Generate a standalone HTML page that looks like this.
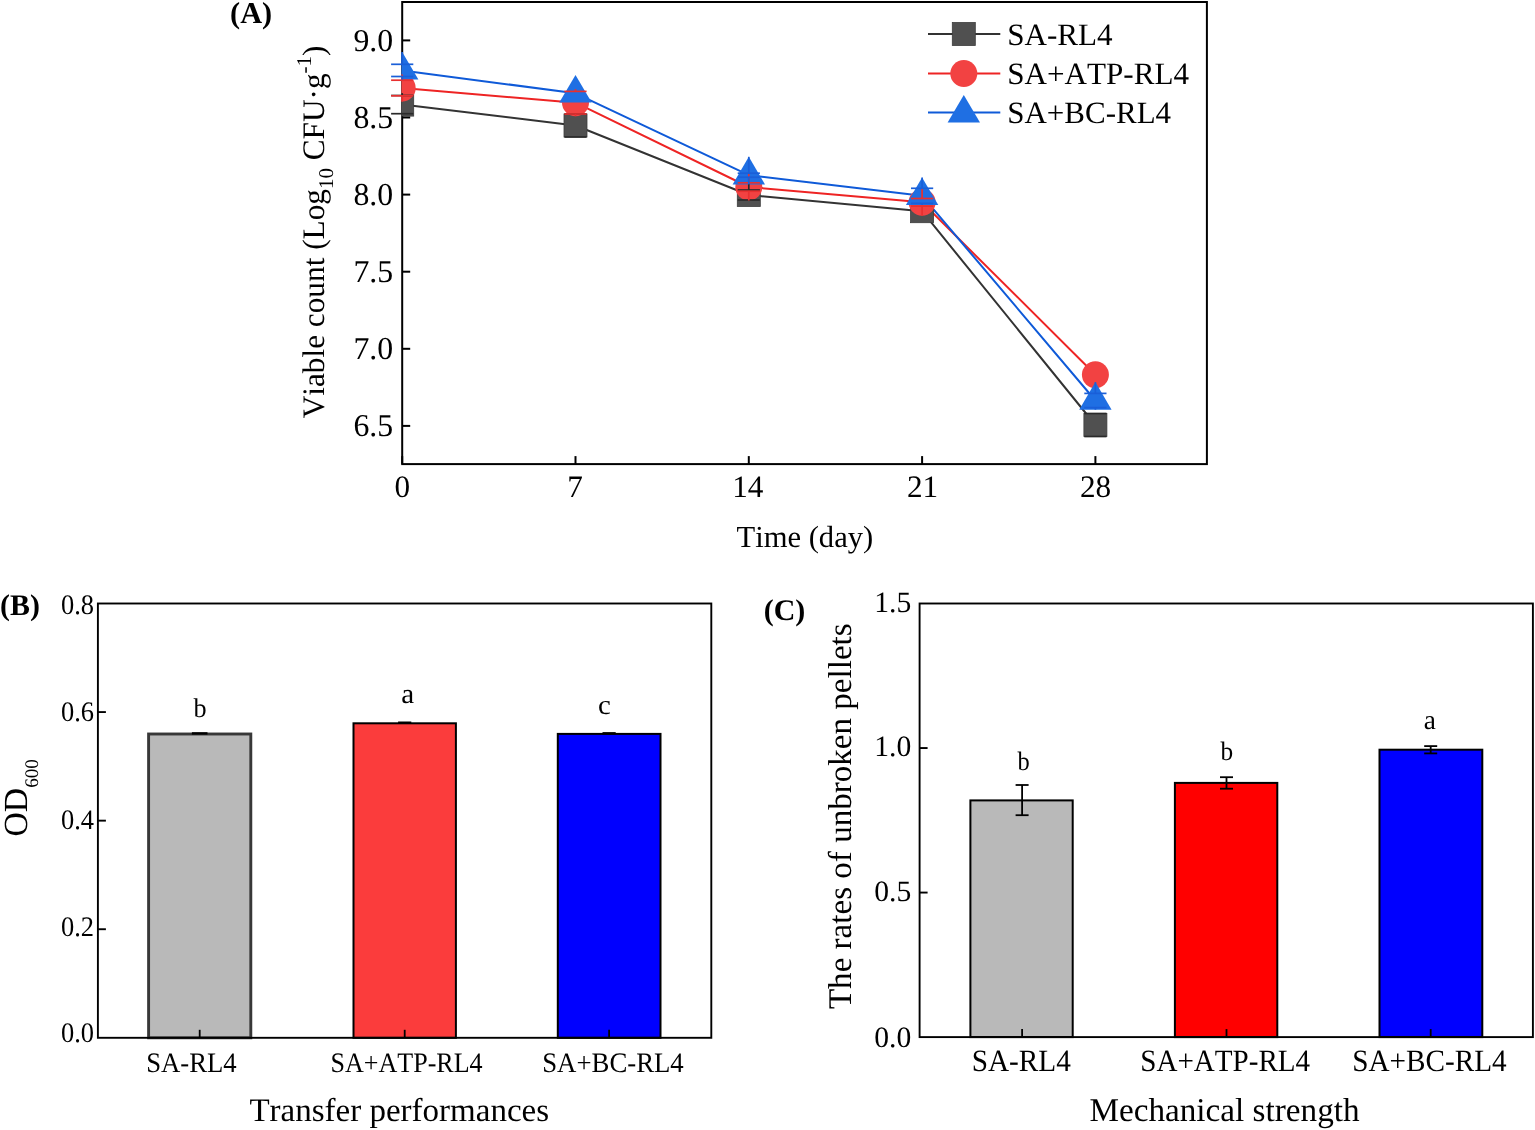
<!DOCTYPE html>
<html><head><meta charset="utf-8"><title>Figure</title>
<style>html,body{margin:0;padding:0;background:#fff;}svg{display:block;}text{font-kerning:none;text-rendering:geometricPrecision;}</style>
</head><body>
<svg width="1535" height="1130" viewBox="0 0 1535 1130" font-family="'Liberation Serif', 'Times New Roman', serif">
<rect x="0" y="0" width="1535" height="1130" fill="#fff"/>
<defs><clipPath id="clipA"><rect x="401.4" y="2.0" width="805.5000000000001" height="462.1"/></clipPath></defs>
<rect x="402.2" y="2.0" width="804.70" height="462.10" fill="none" stroke="#000" stroke-width="2.0"/>
<g clip-path="url(#clipA)">
<polyline points="402.20,104.60 575.50,125.50 748.80,195.00 922.10,211.20 1095.40,425.00" fill="none" stroke="#333333" stroke-width="2.0" stroke-linejoin="round"/>
<polyline points="402.20,88.00 575.50,102.70 748.80,187.00 922.10,202.30 1095.40,374.70" fill="none" stroke="#ee2424" stroke-width="2.0" stroke-linejoin="round"/>
<polyline points="402.20,70.40 575.50,93.30 748.80,175.20 922.10,195.80 1095.40,400.50" fill="none" stroke="#0f5ad8" stroke-width="2.0" stroke-linejoin="round"/>
<rect x="390.70" y="93.10" width="23.0" height="23.0" fill="#505050" stroke="#3c3c3c" stroke-width="0.8"/>
<rect x="564.00" y="114.00" width="23.0" height="23.0" fill="#505050" stroke="#3c3c3c" stroke-width="0.8"/>
<rect x="737.30" y="183.50" width="23.0" height="23.0" fill="#505050" stroke="#3c3c3c" stroke-width="0.8"/>
<rect x="910.60" y="199.70" width="23.0" height="23.0" fill="#505050" stroke="#3c3c3c" stroke-width="0.8"/>
<rect x="1083.90" y="413.50" width="23.0" height="23.0" fill="#505050" stroke="#3c3c3c" stroke-width="0.8"/>
<circle cx="402.20" cy="88.00" r="13.5" fill="#f24242"/>
<circle cx="575.50" cy="102.70" r="13.5" fill="#f24242"/>
<circle cx="748.80" cy="187.00" r="13.5" fill="#f24242"/>
<circle cx="922.10" cy="202.30" r="13.5" fill="#f24242"/>
<circle cx="1095.40" cy="374.70" r="13.5" fill="#f24242"/>
<polygon points="402.20,52.00 418.40,79.60 386.00,79.60" fill="#1f6fe3"/>
<polygon points="575.50,74.90 591.70,102.50 559.30,102.50" fill="#1f6fe3"/>
<polygon points="748.80,156.80 765.00,184.40 732.60,184.40" fill="#1f6fe3"/>
<polygon points="922.10,177.40 938.30,205.00 905.90,205.00" fill="#1f6fe3"/>
<polygon points="1095.40,382.10 1111.60,409.70 1079.20,409.70" fill="#1f6fe3"/>
</g>
<line x1="391.10" y1="95.50" x2="413.30" y2="95.50" stroke="#2a2a2a" stroke-width="1.7"/><line x1="391.10" y1="113.70" x2="413.30" y2="113.70" stroke="#2a2a2a" stroke-width="1.7"/><line x1="402.20" y1="93.10" x2="402.20" y2="95.50" stroke="#2a2a2a" stroke-width="1.7"/>
<line x1="564.40" y1="114.00" x2="586.60" y2="114.00" stroke="#2a2a2a" stroke-width="1.7"/><line x1="564.40" y1="137.00" x2="586.60" y2="137.00" stroke="#2a2a2a" stroke-width="1.7"/>
<line x1="737.70" y1="190.00" x2="759.90" y2="190.00" stroke="#2a2a2a" stroke-width="1.7"/><line x1="737.70" y1="200.00" x2="759.90" y2="200.00" stroke="#2a2a2a" stroke-width="1.7"/><line x1="748.80" y1="183.50" x2="748.80" y2="190.00" stroke="#2a2a2a" stroke-width="1.7"/>

<line x1="1084.30" y1="413.50" x2="1106.50" y2="413.50" stroke="#2a2a2a" stroke-width="1.7"/><line x1="1084.30" y1="436.50" x2="1106.50" y2="436.50" stroke="#2a2a2a" stroke-width="1.7"/>
<line x1="391.10" y1="80.20" x2="413.30" y2="80.20" stroke="#e83030" stroke-width="1.7"/><line x1="391.10" y1="95.80" x2="413.30" y2="95.80" stroke="#e83030" stroke-width="1.7"/><line x1="402.20" y1="74.50" x2="402.20" y2="80.20" stroke="#e83030" stroke-width="1.7"/><line x1="402.20" y1="95.80" x2="402.20" y2="101.50" stroke="#e83030" stroke-width="1.7"/>
<line x1="564.40" y1="91.40" x2="586.60" y2="91.40" stroke="#e83030" stroke-width="1.7"/><line x1="564.40" y1="114.00" x2="586.60" y2="114.00" stroke="#e83030" stroke-width="1.7"/><line x1="575.50" y1="89.20" x2="575.50" y2="91.40" stroke="#e83030" stroke-width="1.7"/><line x1="575.50" y1="114.00" x2="575.50" y2="116.20" stroke="#e83030" stroke-width="1.7"/>
<line x1="737.70" y1="182.80" x2="759.90" y2="182.80" stroke="#e83030" stroke-width="1.7"/><line x1="737.70" y1="191.20" x2="759.90" y2="191.20" stroke="#e83030" stroke-width="1.7"/><line x1="748.80" y1="173.50" x2="748.80" y2="182.80" stroke="#e83030" stroke-width="1.7"/><line x1="748.80" y1="191.20" x2="748.80" y2="200.50" stroke="#e83030" stroke-width="1.7"/>
<line x1="911.00" y1="198.50" x2="933.20" y2="198.50" stroke="#e83030" stroke-width="1.7"/><line x1="911.00" y1="206.10" x2="933.20" y2="206.10" stroke="#e83030" stroke-width="1.7"/><line x1="922.10" y1="188.80" x2="922.10" y2="198.50" stroke="#e83030" stroke-width="1.7"/><line x1="922.10" y1="206.10" x2="922.10" y2="215.80" stroke="#e83030" stroke-width="1.7"/>

<line x1="391.10" y1="64.30" x2="413.30" y2="64.30" stroke="#1a5fd8" stroke-width="1.7"/><line x1="391.10" y1="76.50" x2="413.30" y2="76.50" stroke="#1a5fd8" stroke-width="1.7"/><line x1="402.20" y1="52.00" x2="402.20" y2="64.30" stroke="#1a5fd8" stroke-width="1.7"/><line x1="402.20" y1="76.50" x2="402.20" y2="79.60" stroke="#1a5fd8" stroke-width="1.7"/>

<line x1="737.70" y1="173.20" x2="759.90" y2="173.20" stroke="#1a5fd8" stroke-width="1.7"/><line x1="737.70" y1="177.20" x2="759.90" y2="177.20" stroke="#1a5fd8" stroke-width="1.7"/><line x1="748.80" y1="156.80" x2="748.80" y2="173.20" stroke="#1a5fd8" stroke-width="1.7"/><line x1="748.80" y1="177.20" x2="748.80" y2="184.40" stroke="#1a5fd8" stroke-width="1.7"/>
<line x1="911.00" y1="188.30" x2="933.20" y2="188.30" stroke="#1a5fd8" stroke-width="1.7"/><line x1="911.00" y1="203.30" x2="933.20" y2="203.30" stroke="#1a5fd8" stroke-width="1.7"/><line x1="922.10" y1="177.40" x2="922.10" y2="188.30" stroke="#1a5fd8" stroke-width="1.7"/><line x1="922.10" y1="203.30" x2="922.10" y2="205.00" stroke="#1a5fd8" stroke-width="1.7"/>
<line x1="1084.30" y1="393.40" x2="1106.50" y2="393.40" stroke="#1a5fd8" stroke-width="1.7"/><line x1="1084.30" y1="407.60" x2="1106.50" y2="407.60" stroke="#1a5fd8" stroke-width="1.7"/><line x1="1095.40" y1="382.10" x2="1095.40" y2="393.40" stroke="#1a5fd8" stroke-width="1.7"/><line x1="1095.40" y1="407.60" x2="1095.40" y2="409.70" stroke="#1a5fd8" stroke-width="1.7"/>
<line x1="402.2" y1="40.40" x2="410.2" y2="40.40" stroke="#000" stroke-width="2.0"/>
<text x="353.45" y="50.50" font-size="31.80">9.0</text>
<line x1="402.2" y1="117.50" x2="410.2" y2="117.50" stroke="#000" stroke-width="2.0"/>
<text x="353.45" y="127.60" font-size="31.80">8.5</text>
<line x1="402.2" y1="194.60" x2="410.2" y2="194.60" stroke="#000" stroke-width="2.0"/>
<text x="353.45" y="204.70" font-size="31.80">8.0</text>
<line x1="402.2" y1="271.70" x2="410.2" y2="271.70" stroke="#000" stroke-width="2.0"/>
<text x="353.45" y="281.80" font-size="31.80">7.5</text>
<line x1="402.2" y1="348.80" x2="410.2" y2="348.80" stroke="#000" stroke-width="2.0"/>
<text x="353.45" y="358.90" font-size="31.80">7.0</text>
<line x1="402.2" y1="425.90" x2="410.2" y2="425.90" stroke="#000" stroke-width="2.0"/>
<text x="353.45" y="436.00" font-size="31.80">6.5</text>
<line x1="402.20" y1="464.1" x2="402.20" y2="456.1" stroke="#000" stroke-width="2.0"/>
<text x="394.60" y="497.20" font-size="31.20">0</text>
<line x1="575.50" y1="464.1" x2="575.50" y2="456.1" stroke="#000" stroke-width="2.0"/>
<text x="567.32" y="497.20" font-size="31.20">7</text>
<line x1="748.80" y1="464.1" x2="748.80" y2="456.1" stroke="#000" stroke-width="2.0"/>
<text x="732.27" y="497.20" font-size="31.20">14</text>
<line x1="922.10" y1="464.1" x2="922.10" y2="456.1" stroke="#000" stroke-width="2.0"/>
<text x="906.95" y="497.20" font-size="31.20">21</text>
<line x1="1095.40" y1="464.1" x2="1095.40" y2="456.1" stroke="#000" stroke-width="2.0"/>
<text x="1079.91" y="497.20" font-size="31.20">28</text>
<text x="736.45" y="547.40" font-size="30.60">Time (day)</text>
<text transform="translate(323.7,418.30) rotate(-90)" font-size="31.28" style="font-kerning:none">Viable count (Log<tspan font-size="21" dy="9.3">10</tspan><tspan dy="-9.3"> CFU·g</tspan><tspan font-size="21" dy="-13">-1</tspan><tspan dy="13">)</tspan></text>
<text x="230.07" y="22.60" font-size="30.30" font-weight="bold">(A)</text>
<line x1="928" y1="34.0" x2="1000.3" y2="34.0" stroke="#333333" stroke-width="2"/>
<rect x="952.30" y="22.50" width="23.0" height="23.0" fill="#505050" stroke="#3c3c3c" stroke-width="0.8"/>
<text x="1007.22" y="44.80" font-size="31.12">SA-RL4</text>
<line x1="928" y1="73.5" x2="1000.3" y2="73.5" stroke="#ee2424" stroke-width="2"/>
<circle cx="963.80" cy="73.50" r="13.5" fill="#f24242"/>
<text x="1007.22" y="84.30" font-size="31.11">SA+ATP-RL4</text>
<line x1="928" y1="112.6" x2="1000.3" y2="112.6" stroke="#0f5ad8" stroke-width="2"/>
<polygon points="963.80,94.90 980.00,122.50 947.60,122.50" fill="#1f6fe3"/>
<text x="1007.23" y="123.30" font-size="31.01">SA+BC-RL4</text>
<rect x="148.60" y="734.00" width="102.20" height="303.80" fill="#b9b9b9" stroke="#383838" stroke-width="2.9"/>
<line x1="191.90" y1="733.40" x2="207.50" y2="733.40" stroke="#000" stroke-width="2.4"/>
<line x1="199.70" y1="1037.8" x2="199.70" y2="1029.8" stroke="#000" stroke-width="1.8"/>
<rect x="353.50" y="723.30" width="102.40" height="314.50" fill="#fb3c3c" stroke="#000" stroke-width="2.0"/>
<line x1="398.10" y1="722.70" x2="411.30" y2="722.70" stroke="#000" stroke-width="2.4"/>
<line x1="404.70" y1="1037.8" x2="404.70" y2="1029.8" stroke="#000" stroke-width="1.8"/>
<rect x="557.80" y="733.90" width="102.70" height="303.90" fill="#0000ff" stroke="#000" stroke-width="2.0"/>
<line x1="602.50" y1="733.30" x2="615.70" y2="733.30" stroke="#000" stroke-width="2.4"/>
<line x1="609.10" y1="1037.8" x2="609.10" y2="1029.8" stroke="#000" stroke-width="1.8"/>
<text transform="translate(193.60,716.70) scale(0.9702,1)" font-size="27.00">b</text>
<text transform="translate(401.18,702.90) scale(1.0397,1)" font-size="28.00">a</text>
<text transform="translate(598.10,714.40) scale(1.0360,1)" font-size="27.80">c</text>
<rect x="97.9" y="603.5" width="613.40" height="434.30" fill="none" stroke="#000" stroke-width="1.9"/>
<text transform="translate(61.02,1042.47) scale(0.9350,1)" font-size="28.30">0.0</text>
<line x1="97.9" y1="929.22" x2="105.9" y2="929.22" stroke="#000" stroke-width="1.9"/>
<text transform="translate(61.02,935.57) scale(0.9350,1)" font-size="28.30">0.2</text>
<line x1="97.9" y1="820.65" x2="105.9" y2="820.65" stroke="#000" stroke-width="1.9"/>
<text transform="translate(61.02,828.57) scale(0.9350,1)" font-size="28.30">0.4</text>
<line x1="97.9" y1="712.08" x2="105.9" y2="712.08" stroke="#000" stroke-width="1.9"/>
<text transform="translate(61.02,721.27) scale(0.9350,1)" font-size="28.30">0.6</text>
<text transform="translate(61.02,614.27) scale(0.9350,1)" font-size="28.30">0.8</text>
<text transform="translate(146.21,1071.50) scale(0.9469,1)" font-size="28.20">SA-RL4</text>
<text transform="translate(330.46,1071.50) scale(0.9241,1)" font-size="28.20">SA+ATP-RL4</text>
<text transform="translate(542.21,1071.50) scale(0.9498,1)" font-size="28.20">SA+BC-RL4</text>
<text x="249.40" y="1121.30" font-size="33.03">Transfer performances</text>
<text transform="translate(27.3,836.48) rotate(-90)" font-size="33.7" style="font-kerning:none">OD<tspan font-size="19.2" dy="10.7">600</tspan></text>
<text x="0.09" y="614.80" font-size="29.88" font-weight="bold">(B)</text>
<rect x="970.40" y="800.40" width="102.30" height="236.70" fill="#b9b9b9" stroke="#000" stroke-width="2"/>
<line x1="1022.10" y1="785.00" x2="1022.10" y2="815.20" stroke="#000" stroke-width="1.8"/>
<line x1="1015.60" y1="785.00" x2="1028.60" y2="785.00" stroke="#000" stroke-width="1.8"/>
<line x1="1015.60" y1="815.20" x2="1028.60" y2="815.20" stroke="#000" stroke-width="1.8"/>
<line x1="1022.10" y1="1037.1" x2="1022.10" y2="1029.1" stroke="#000" stroke-width="1.8"/>
<rect x="1174.90" y="782.90" width="102.40" height="254.20" fill="#ff0000" stroke="#000" stroke-width="2"/>
<line x1="1226.50" y1="777.20" x2="1226.50" y2="788.70" stroke="#000" stroke-width="1.8"/>
<line x1="1220.00" y1="777.20" x2="1233.00" y2="777.20" stroke="#000" stroke-width="1.8"/>
<line x1="1220.00" y1="788.70" x2="1233.00" y2="788.70" stroke="#000" stroke-width="1.8"/>
<line x1="1226.50" y1="1037.1" x2="1226.50" y2="1029.1" stroke="#000" stroke-width="1.8"/>
<rect x="1379.50" y="749.70" width="102.80" height="287.40" fill="#0000ff" stroke="#000" stroke-width="2"/>
<line x1="1430.70" y1="746.10" x2="1430.70" y2="753.40" stroke="#000" stroke-width="1.8"/>
<line x1="1424.20" y1="746.10" x2="1437.20" y2="746.10" stroke="#000" stroke-width="1.8"/>
<line x1="1424.20" y1="753.40" x2="1437.20" y2="753.40" stroke="#000" stroke-width="1.8"/>
<line x1="1430.70" y1="1037.1" x2="1430.70" y2="1029.1" stroke="#000" stroke-width="1.8"/>
<text transform="translate(1017.40,769.60) scale(0.9231,1)" font-size="26.50">b</text>
<text transform="translate(1220.60,759.60) scale(0.9558,1)" font-size="26.50">b</text>
<text transform="translate(1423.84,729.00) scale(0.9942,1)" font-size="27.50">a</text>
<rect x="919.6" y="603.5" width="613.30" height="433.60" fill="none" stroke="#000" stroke-width="1.9"/>
<text x="874.30" y="1046.60" font-size="29.60">0.0</text>
<line x1="919.6" y1="892.57" x2="927.6" y2="892.57" stroke="#000" stroke-width="1.9"/>
<text x="874.30" y="901.00" font-size="29.60">0.5</text>
<line x1="919.6" y1="748.03" x2="927.6" y2="748.03" stroke="#000" stroke-width="1.9"/>
<text x="874.30" y="756.30" font-size="29.60">1.0</text>
<text x="874.30" y="612.30" font-size="29.60">1.5</text>
<text transform="translate(971.64,1070.90) scale(0.9443,1)" font-size="31.00">SA-RL4</text>
<text transform="translate(1140.25,1070.90) scale(0.9381,1)" font-size="31.00">SA+ATP-RL4</text>
<text transform="translate(1352.25,1070.90) scale(0.9421,1)" font-size="31.00">SA+BC-RL4</text>
<text x="1089.44" y="1121.20" font-size="33.21">Mechanical strength</text>
<text transform="translate(850.7,1009.1) rotate(-90)" font-size="33.1" style="font-kerning:none">The rates of unbroken pellets</text>
<text x="763.68" y="619.60" font-size="29.99" font-weight="bold">(C)</text>
</svg>
</body></html>
